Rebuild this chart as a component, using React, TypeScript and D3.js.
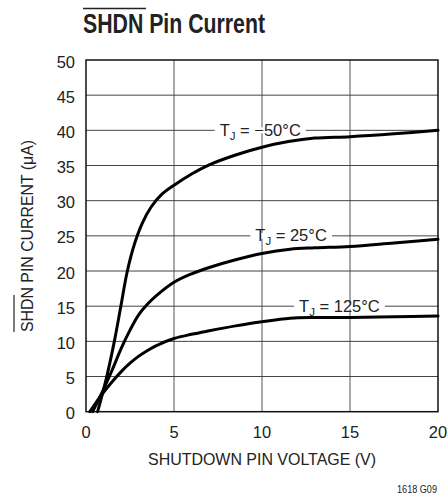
import React, { useEffect, useRef } from "react";
import * as d3 from "d3";

// ---- data ----
const xTicks = [0, 5, 10, 15, 20];
const yTicks = [0, 5, 10, 15, 20, 25, 30, 35, 40, 45, 50];

const m50V = [0.66, 1.18, 1.61, 1.98, 2.35, 2.75, 3.2, 3.7, 4.3, 5.0, 6.0, 7.0, 8.5, 10, 11.5, 13, 15, 17.5, 20];
const m50I = [0, 5, 10, 15, 20, 23.8, 26.8, 29.1, 30.9, 32.2, 33.8, 35.1, 36.5, 37.6, 38.4, 38.9, 39.1, 39.5, 40];

const t25V = [0.38, 1.0, 1.5, 2.0, 2.5, 3.0, 3.5, 4.0, 5.0, 6.0, 7.0, 8.5, 10, 11.6, 13, 15, 17.5, 20];
const t25I = [0, 3.2, 6.0, 9.0, 11.6, 13.8, 15.3, 16.5, 18.4, 19.6, 20.5, 21.6, 22.5, 23.1, 23.3, 23.5, 24, 24.5];

const t125V = [0.22, 0.8, 1.4, 2.0, 2.5, 3.0, 3.5, 4.0, 5.0, 6.0, 7.0, 8.5, 10, 11.6, 13, 15, 17.5, 20];
const t125I = [0, 2.1, 4.0, 5.7, 6.9, 7.9, 8.7, 9.4, 10.4, 11.0, 11.5, 12.2, 12.8, 13.3, 13.4, 13.4, 13.5, 13.6];

const seriesLabels = ["−50°C", "25°C", "125°C"];
const labelAt = [
  [9.9, 40],
  [11.65, 25],
  [14.4, 15],
];

const FONT = "'Liberation Sans', Arial, sans-serif";

export default function App() {
  const ref = useRef<SVGSVGElement>(null);

  useEffect(() => {
    const svg = d3.select(ref.current!);
    svg.selectAll("*").remove();

    const x = d3.scaleLinear().domain([0, 20]).range([86, 438]);
    const y = d3.scaleLinear().domain([0, 50]).range([411.7, 60]);

    const g = svg.append("g");

    // grid
    g.selectAll("line.vg")
      .data(xTicks.slice(1, -1))
      .join("line")
      .attr("x1", (d) => x(d))
      .attr("x2", (d) => x(d))
      .attr("y1", y(0))
      .attr("y2", y(50))
      .attr("stroke", "#555")
      .attr("stroke-width", 1);
    g.selectAll("line.hg")
      .data(yTicks.slice(1, -1))
      .join("line")
      .attr("x1", x(0))
      .attr("x2", x(20))
      .attr("y1", (d) => y(d))
      .attr("y2", (d) => y(d))
      .attr("stroke", "#444")
      .attr("stroke-width", 1);

    // frame
    g.append("rect")
      .attr("x", x(0))
      .attr("y", y(50))
      .attr("width", x(20) - x(0))
      .attr("height", y(0) - y(50))
      .attr("fill", "none")
      .attr("stroke", "#111")
      .attr("stroke-width", 1.5);

    // tick labels
    g.selectAll("text.xt")
      .data(xTicks)
      .join("text")
      .attr("x", (d) => x(d))
      .attr("y", 438)
      .attr("text-anchor", "middle")
      .attr("font-family", FONT)
      .attr("font-size", 16.5)
      .attr("fill", "#222")
      .text((d) => String(d));
    g.selectAll("text.yt")
      .data(yTicks)
      .join("text")
      .attr("x", 75)
      .attr("y", (d) => y(d) + 7.5)
      .attr("text-anchor", "end")
      .attr("font-family", FONT)
      .attr("font-size", 16.5)
      .attr("fill", "#222")
      .text((d) => String(d));

    // curves
    const line = d3
      .line<[number, number]>()
      .x((d) => x(d[0]))
      .y((d) => y(d[1]))
      .curve(d3.curveCatmullRom.alpha(0.5));
    const series: [number[], number[]][] = [
      [m50V, m50I],
      [t25V, t25I],
      [t125V, t125I],
    ];
    series.forEach(([vs, is]) => {
      const pts = vs.map((v, i) => [v, is[i]] as [number, number]);
      g.append("path")
        .attr("d", line(pts)!)
        .attr("fill", "none")
        .attr("stroke", "#000")
        .attr("stroke-width", 3)
        .attr("stroke-linejoin", "round")
        .attr("stroke-linecap", "round");
    });

    // series labels with white background
    seriesLabels.forEach((lab, i) => {
      const [lv, li] = labelAt[i];
      const lg = g.append("g");
      const bg = lg.append("rect").attr("fill", "#fff");
      const t = lg
        .append("text")
        .attr("x", x(lv))
        .attr("y", y(li) + 5.5)
        .attr("text-anchor", "middle")
        .attr("font-family", FONT)
        .attr("font-size", 16.5)
        .attr("fill", "#222");
      t.append("tspan").text("T");
      t.append("tspan").attr("font-size", 11.5).attr("dy", 4).text("J");
      t.append("tspan").attr("dy", -4).text(" = " + lab);
      const bb = (t.node() as SVGTextElement).getBBox();
      bg.attr("x", bb.x - 5)
        .attr("y", y(li) - 3)
        .attr("width", bb.width + 10)
        .attr("height", 6);
    });

    // title
    svg
      .append("text")
      .attr("x", 83)
      .attr("y", 33)
      .attr("font-family", FONT)
      .attr("font-weight", "bold")
      .attr("font-size", 27.5)
      .attr("fill", "#222")
      .attr("textLength", 182)
      .attr("lengthAdjust", "spacingAndGlyphs")
      .text("SHDN Pin Current");
    svg
      .append("line")
      .attr("x1", 83)
      .attr("x2", 146)
      .attr("y1", 8.5)
      .attr("y2", 8.5)
      .attr("stroke", "#222")
      .attr("stroke-width", 1.5);

    // x axis title
    svg
      .append("text")
      .attr("x", 262)
      .attr("y", 465)
      .attr("text-anchor", "middle")
      .attr("font-family", FONT)
      .attr("font-size", 17)
      .attr("fill", "#222")
      .attr("textLength", 228)
      .attr("lengthAdjust", "spacingAndGlyphs")
      .text("SHUTDOWN PIN VOLTAGE (V)");

    // y axis title
    const yt = svg
      .append("g")
      .attr("transform", "translate(33,236) rotate(-90)");
    yt.append("text")
      .attr("x", 0)
      .attr("y", 0)
      .attr("text-anchor", "middle")
      .attr("font-family", FONT)
      .attr("font-size", 17)
      .attr("fill", "#222")
      .attr("textLength", 192)
      .attr("lengthAdjust", "spacingAndGlyphs")
      .text("SHDN PIN CURRENT (μA)");
    yt.append("line")
      .attr("x1", -96)
      .attr("x2", -59)
      .attr("y1", -19)
      .attr("y2", -19)
      .attr("stroke", "#222")
      .attr("stroke-width", 1.2);

    // figure code
    svg
      .append("text")
      .attr("x", 437)
      .attr("y", 493)
      .attr("text-anchor", "end")
      .attr("font-family", FONT)
      .attr("font-size", 10)
      .attr("fill", "#222")
      .attr("textLength", 40)
      .attr("lengthAdjust", "spacingAndGlyphs")
      .text("1618 G09");
  }, []);

  return (
    <svg
      ref={ref}
      width={448}
      height={494}
      style={{ position: "absolute", left: 0, top: 0, background: "#fff" }}
    />
  );
}
